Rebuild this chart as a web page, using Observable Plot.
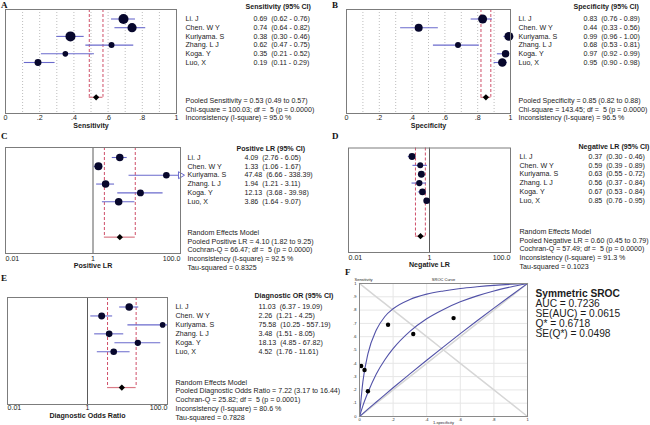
<!DOCTYPE html>
<html>
<head>
<meta charset="utf-8">
<script src="https://cdn.jsdelivr.net/npm/d3@7"></script>
<script src="https://cdn.jsdelivr.net/npm/@observablehq/plot@0.6"></script>
<style>
html, body { margin: 0; padding: 0; background: #fff; }
#fig { position: relative; width: 650px; height: 425px; overflow: hidden; background: #fff; }
#fig svg { position: absolute; }
.lbl { position: absolute; font-family: "Liberation Serif", "Times New Roman", serif; font-weight: bold; font-size: 9px; line-height: 1; color: #111; }
</style>
</head>
<body>
<div id="fig"></div>
<script>
// ---------------- data ----------------
const studies = ["Li. J", "Chen. W Y", "Kuriyama. S", "Zhang. L J", "Koga. Y", "Luo, X"];

const sens   = [0.69, 0.74, 0.38, 0.62, 0.35, 0.19];
const sensLo = [0.62, 0.64, 0.30, 0.47, 0.21, 0.11];
const sensHi = [0.76, 0.82, 0.46, 0.75, 0.52, 0.29];

const spec   = [0.83, 0.44, 0.99, 0.68, 0.97, 0.95];
const specLo = [0.76, 0.33, 0.96, 0.53, 0.92, 0.90];
const specHi = [0.89, 0.56, 1.00, 0.81, 0.99, 0.98];

const plr   = [4.09, 1.33, 47.48, 1.94, 12.13, 3.86];
const plrLo = [2.76, 1.06, 6.66, 1.21, 3.68, 1.64];
const plrHi = [6.05, 1.67, 338.39, 3.11, 39.98, 9.07];

const nlr   = [0.37, 0.59, 0.63, 0.56, 0.67, 0.85];
const nlrLo = [0.30, 0.39, 0.55, 0.37, 0.53, 0.76];
const nlrHi = [0.46, 0.89, 0.72, 0.84, 0.84, 0.95];

const dor   = [11.03, 2.26, 75.58, 3.48, 18.13, 4.52];
const dorLo = [6.37, 1.21, 10.25, 1.51, 4.85, 1.76];
const dorHi = [19.09, 4.25, 557.19, 8.05, 67.82, 11.61];

// study weights (relative)
const sensW = [25, 21, 25, 9, 8, 12];
const specW = [20, 16, 20, 9, 14, 18];
const plrW  = [14, 16, 11, 14, 12, 14];
const nlrW  = [12, 9, 12, 10, 11, 11];
const dorW  = [14, 12, 8, 11, 10, 11];

// pooled: estimate, lower, upper
const pooledSens = [0.53, 0.49, 0.57];
const pooledSpec = [0.85, 0.82, 0.88];
const pooledPlr  = [4.10, 1.82, 9.25];
const pooledNlr  = [0.60, 0.45, 0.79];
const pooledDor  = [7.22, 3.17, 16.44];

// heterogeneity (panels A..E)
const hetStat = [100.03, 143.45, 66.47, 57.49, 25.82];
const hetDf   = [5, 5, 5, 5, 5];
const hetP    = ["0.0000", "0.0000", "0.0000", "0.0000", "0.0001"];
const iSquare = [95.0, 96.5, 92.5, 91.3, 80.6];
const tauSq   = [null, null, 0.8325, 0.1023, 0.7828];

const linTicks = [0, 0.2, 0.4, 0.6, 0.8, 1];
const linTickLabels = ["0", ".2", ".4", ".6", ".8", "1"];
const gridTicks = [0.1, 0.2, 0.3, 0.4, 0.5, 0.6, 0.7, 0.8, 0.9];
const logTicks = [0.01, 1, 100];
const logTickLabels = ["0.01", "1", "100.0"];

// SROC (panel F) curves
const srocFpr   = [0, 0.02, 0.05, 0.1, 0.15, 0.2, 0.3, 0.4, 0.5, 0.6, 0.7, 0.8, 0.9, 1];
const srocUpper = [0, 0.26, 0.47, 0.65, 0.75, 0.81, 0.88, 0.92, 0.944, 0.962, 0.975, 0.986, 0.994, 1];
const srocMid   = [0, 0.08, 0.18, 0.32, 0.425, 0.51, 0.64, 0.735, 0.805, 0.862, 0.907, 0.944, 0.974, 1];
const srocLower = [0, 0.022, 0.055, 0.109, 0.163, 0.216, 0.32, 0.423, 0.524, 0.623, 0.72, 0.815, 0.908, 1];
const srocTitle = "Symmetric SROC";
const srocStats = ["AUC = 0.7236", "SE(AUC) = 0.0615", "Q* = 0.6718", "SE(Q*) = 0.0498"];
const srocXTicks = [0, 0.2, 0.4, 0.6, 0.8, 1];
const srocXTickLabels = ["0", ".2", ".4", ".6", ".8", "1"];
const srocYTicks = [0, 0.1, 0.2, 0.3, 0.4, 0.5, 0.6, 0.7, 0.8, 0.9, 1];
const srocYTickLabels = ["0", ".1", ".2", ".3", ".4", ".5", ".6", ".7", ".8", ".9", "1"];

// ---------------- styling ----------------
const FONT = "'Liberation Sans', Arial, Helvetica, sans-serif";
const FS = 7.1;
const navy = "#07072c", ciBlue = "#6a6acc", red = "#cf4f69", pink = "#d97a86", frameGray = "#7c7c7c";
const fig = document.getElementById("fig");

function place(svg, left, top) {
  svg.style.left = left + "px";
  svg.style.top = top + "px";
  fig.appendChild(svg);
}

function forest(c) {
  const L = c.layout;
  const rows = studies.map((name, i) => ({name, i, v: c.v[i], lo: c.lo[i], hi: c.hi[i], w: c.w[i]}));
  const idx = y => (y - L.row0) / L.step;
  const iTop = idx(L.fT), iBot = idx(L.fB);
  const pIdx = 9;
  const xMin = c.log ? logTicks[0] : 0, xMax = c.log ? logTicks[2] : 1;
  const clampX = x => Math.max(xMin, Math.min(xMax, x));
  const fmt = d => `${d.v.toFixed(2)}\u00a0\u00a0(${d.lo.toFixed(2)} - ${d.hi.toFixed(2)})`;
  const stats = c.stats.map((t, k) => ({t, k}));
  const tickPad = L.tickY - L.fB - 0.36 * FS;
  const marks = [];
  if (!c.log) {
    marks.push(Plot.ruleX(gridTicks, {x: d => d, stroke: "#bdbdbd", strokeDasharray: "1,2"}));
  } else {
    marks.push(Plot.ruleX([logTicks[1]], {x: d => d, stroke: "#5a5a5a"}));
  }
  marks.push(
    Plot.ruleX([c.pooled[1], c.pooled[2]], {x: d => d, y1: () => iTop, y2: () => pIdx, stroke: red, strokeDasharray: "3,2"}),
    Plot.ruleY([c.pooled], {x1: d => d[1], x2: d => d[2], y: () => pIdx, stroke: pink, strokeWidth: 1.2}),
    Plot.ruleY(rows, {x1: d => clampX(d.lo), x2: d => clampX(d.hi), y: "i", stroke: ciBlue, strokeWidth: 1.1})
  );
  if (c.arrow) {
    marks.push(Plot.dot(rows.filter(d => d.hi > xMax), {x: () => xMax, y: "i", symbol: "triangle", rotate: 90, r: 2.6, fill: "white", stroke: ciBlue, strokeWidth: 1}));
  }
  marks.push(
    Plot.dot(rows, {x: "v", y: "i", r: "w", fill: navy}),
    Plot.dot([c.pooled], {x: d => d[0], y: () => pIdx, symbol: "square", rotate: 45, r: 2.5, fill: "#000"}),
    Plot.frame({stroke: frameGray})
  );
  if (c.log) {
    marks.push(
      Plot.axisX([logTicks[0]], {tickSize: 0, tickPadding: tickPad, textAnchor: "start", tickFormat: () => logTickLabels[0], label: null}),
      Plot.axisX([logTicks[1]], {tickSize: 0, tickPadding: tickPad, tickFormat: () => logTickLabels[1], label: null}),
      Plot.axisX([logTicks[2]], {tickSize: 0, tickPadding: tickPad, textAnchor: "end", tickFormat: () => logTickLabels[2], label: null})
    );
  } else {
    marks.push(Plot.axisX(linTicks, {tickSize: 0, tickPadding: tickPad, tickFormat: d => linTickLabels[linTicks.indexOf(d)], label: null}));
  }
  marks.push(
    Plot.text([c.title], {text: d => d, frameAnchor: "bottom", dy: L.titleY - L.fB, fontWeight: "bold"}),
    Plot.text([c.header], {text: d => d, y: () => idx(L.headerY), frameAnchor: "right", dx: L.headerX - L.fR, textAnchor: "start", fontWeight: "bold"}),
    Plot.text(rows, {text: "name", y: "i", frameAnchor: "right", dx: L.nameX - L.fR, textAnchor: "start"}),
    Plot.text(rows, {text: fmt, y: "i", frameAnchor: "right", dx: L.valX - L.fR, textAnchor: "start"}),
    Plot.text(stats, {text: "t", y: d => idx(L.statY0 + d.k * L.statStep), frameAnchor: "right", dx: L.nameX - L.fR, textAnchor: "start"})
  );
  const svg = Plot.plot({
    width: L.w, height: L.h,
    marginLeft: L.fL - L.svgL, marginRight: L.svgL + L.w - L.fR,
    marginTop: L.fT - L.svgT, marginBottom: L.svgT + L.h - L.fB,
    x: c.log ? {type: "log", domain: [logTicks[0], logTicks[2]], label: null} : {domain: [0, 1], label: null},
    y: {domain: [iBot, iTop], axis: null, label: null},
    r: {type: "sqrt", domain: [0, 100], range: [0, 10]},
    style: {background: "transparent", fontFamily: FONT, fontSize: FS + "px", color: "#1b1b1b", overflow: "visible"},
    marks
  });
  place(svg, L.svgL, L.svgT);
}

const statsFor = (k, pooledLine, random) => {
  const lines = [];
  if (random) lines.push("Random Effects Model");
  lines.push(pooledLine);
  lines.push(`${random ? "Cochran-Q" : "Chi-square"} = ${hetStat[k].toFixed(2)}; df =\u00a0 ${hetDf[k]} (p = ${hetP[k]})`);
  lines.push(`Inconsistency (I-square) = ${iSquare[k].toFixed(1)} %`);
  if (tauSq[k] != null) lines.push(`Tau-squared = ${tauSq[k].toFixed(4)}`);
  return lines;
};
const pooledText = (name, p) => `Pooled ${name} = ${p[0].toFixed(2)} (${p[1].toFixed(2)} to ${p[2].toFixed(2)})`;

forest({
  v: sens, lo: sensLo, hi: sensHi, w: sensW, pooled: pooledSens, log: false,
  title: "Sensitivity", header: "Sensitivity (95% CI)",
  stats: statsFor(0, pooledText("Sensitivity", pooledSens), false),
  layout: {svgL: 0, svgT: 0, w: 325, h: 140, fL: 5, fT: 9, fR: 176, fB: 113, row0: 18.5, step: 8.7,
           headerY: 6, statY0: 100, statStep: 8.8, nameX: 185, valX: 253, headerX: 245, tickY: 117, titleY: 127}
});
forest({
  v: spec, lo: specLo, hi: specHi, w: specW, pooled: pooledSpec, log: false,
  title: "Specificity", header: "Specificity (95% CI)",
  stats: statsFor(1, pooledText("Specificity", pooledSpec), false),
  layout: {svgL: 325, svgT: 0, w: 325, h: 140, fL: 346, fT: 9, fR: 510, fB: 113, row0: 18.5, step: 8.7,
           headerY: 6, statY0: 100, statStep: 8.8, nameX: 518, valX: 583, headerX: 573, tickY: 117, titleY: 127}
});
forest({
  v: plr, lo: plrLo, hi: plrHi, w: plrW, pooled: pooledPlr, log: true, arrow: true,
  title: "Positive LR", header: "Positive LR (95% CI)",
  stats: statsFor(2, pooledText("Positive LR", pooledPlr), true),
  layout: {svgL: 0, svgT: 135, w: 325, h: 140, fL: 5, fT: 147, fR: 180, fB: 253, row0: 157, step: 8.85,
           headerY: 148, statY0: 232, statStep: 8.8, nameX: 187, valX: 244, headerX: 236, tickY: 258, titleY: 267}
});
forest({
  v: nlr, lo: nlrLo, hi: nlrHi, w: nlrW, pooled: pooledNlr, log: true,
  title: "Negative LR", header: "Negative LR (95% CI)",
  stats: statsFor(3, pooledText("Negative LR", pooledNlr), true),
  layout: {svgL: 325, svgT: 135, w: 325, h: 140, fL: 348, fT: 147.5, fR: 510, fB: 252, row0: 156, step: 8.85,
           headerY: 146, statY0: 231, statStep: 8.8, nameX: 519, valX: 588, headerX: 578, tickY: 257.5, titleY: 266.5}
});
forest({
  v: dor, lo: dorLo, hi: dorHi, w: dorW, pooled: pooledDor, log: true,
  title: "Diagnostic Odds Ratio", header: "Diagnostic OR (95% CI)",
  stats: statsFor(4, pooledText("Diagnostic Odds Ratio", pooledDor), true),
  layout: {svgL: 0, svgT: 280, w: 650, h: 145, fL: 7, fT: 297, fR: 167, fB: 404, row0: 306.5, step: 8.95,
           headerY: 295, statY0: 382, statStep: 8.7, nameX: 175, valX: 258, headerX: 254, tickY: 407.5, titleY: 417}
});

// ---------------- panel F: SROC ----------------
(function () {
  const curves = srocFpr.map((x, i) => ({x, up: srocUpper[i], mid: srocMid[i], low: srocLower[i]}));
  const pts = studies.map((name, i) => ({name, fpr: 1 - spec[i], tpr: sens[i]}));
  const curveBlue = "#5252a8";
  const svg = Plot.plot({
    width: 325, height: 160,
    marginLeft: 34, marginTop: 18, marginRight: 123, marginBottom: 9,
    x: {domain: [0, 1], label: null},
    y: {domain: [0, 1], label: null},
    style: {background: "transparent", fontFamily: FONT, fontSize: "4px", color: "#1b1b1b", overflow: "visible"},
    marks: [
      Plot.ruleX(srocXTicks.slice(1, -1), {x: d => d, stroke: "#e6e6e6"}),
      Plot.ruleY(srocYTicks.slice(1, -1), {y: d => d, stroke: "#e6e6e6"}),
      Plot.line(srocFpr, {x: d => d, y: d => d, stroke: "#d6d6d6"}),
      Plot.line(srocFpr, {x: d => d, y: d => 1 - d, stroke: "#d6d6d6"}),
      Plot.line(curves, {x: "x", y: "low", stroke: curveBlue, strokeWidth: 1.1, curve: "monotone-x"}),
      Plot.line(curves, {x: "x", y: "mid", stroke: curveBlue, strokeWidth: 1.1, curve: "monotone-x"}),
      Plot.line(curves, {x: "x", y: "up", stroke: curveBlue, strokeWidth: 1.1, curve: "monotone-x"}),
      Plot.dot(pts, {x: "fpr", y: "tpr", r: 2.2, fill: "#000"}),
      Plot.frame({stroke: "#8a8a8a"}),
      Plot.axisX(srocXTicks, {tickSize: 0, tickPadding: 1.2, tickFormat: d => srocXTickLabels[srocXTicks.indexOf(d)], label: null}),
      Plot.axisY(srocYTicks, {tickSize: 0, tickPadding: 3, tickFormat: d => srocYTickLabels[srocYTicks.indexOf(d)], label: null}),
      Plot.text(["Sensitivity"], {text: d => d, frameAnchor: "top-left", dx: -5, dy: -5, textAnchor: "start"}),
      Plot.text(["SROC Curve"], {text: d => d, frameAnchor: "top", dy: -5}),
      Plot.text(["1-specificity"], {text: d => d, frameAnchor: "bottom", dy: 7}),
      Plot.text([srocTitle], {text: d => d, frameAnchor: "top-right", dx: 8, dy: 10.3, textAnchor: "start", lineAnchor: "middle", fontWeight: "bold", fontSize: 10.2}),
      Plot.text([srocStats.join("\n")], {text: d => d, frameAnchor: "top-right", dx: 8, dy: 16, textAnchor: "start", lineAnchor: "top", lineHeight: 1.0, fontSize: 10.2})
    ]
  });
  place(svg, 325, 265);
})();

// panel letters
[["A", 1, 1], ["B", 332, 1], ["C", 1, 132], ["D", 332, 132], ["E", 1, 274], ["F", 345, 268]].forEach(([t, x, y]) => {
  const d = document.createElement("div");
  d.className = "lbl";
  d.textContent = t;
  d.style.left = x + "px";
  d.style.top = y + "px";
  fig.appendChild(d);
});
</script>
</body>
</html>
